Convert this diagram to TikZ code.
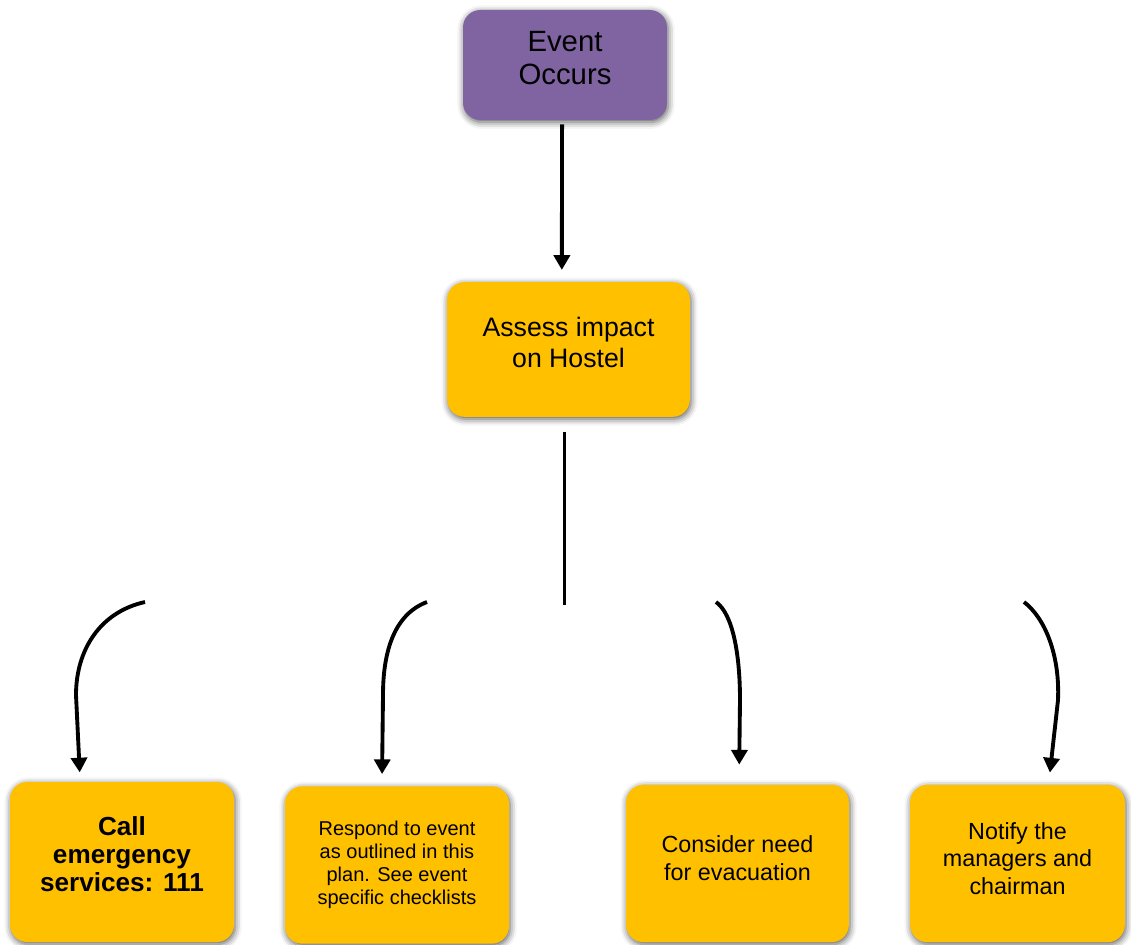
\documentclass[tikz,border=0pt]{standalone}
\usepackage{fontspec}
\setmainfont{Liberation Sans}
\usetikzlibrary{arrows.meta,shadows.blur}
\definecolor{evpurple}{HTML}{8064A2}
\definecolor{boxorange}{HTML}{FFC000}
\tikzset{
  box/.style={rounded corners=13pt, align=center, inner sep=2pt,
    blur shadow={shadow xshift=0.8pt, shadow yshift=-1.6pt, shadow blur radius=5pt, shadow opacity=65}},
  purplebox/.style={box, fill=evpurple, text=black},
  orangebox/.style={box, fill=boxorange, text=black},
  conn/.style={line width=2.9pt, -{Triangle[width=12pt,length=11pt]}},
  plain/.style={line width=2.9pt}
}
\begin{document}
\begin{tikzpicture}[x=0.75pt,y=-0.75pt]
\useasboundingbox (0,0) rectangle (1131,945);
\node[purplebox, font=\fontsize{22}{24.75}\selectfont, text depth=11pt, minimum width=153pt, minimum height=82.5pt] (event) at (565,65) {Event\\Occurs};
\node[orangebox, font=\fontsize{20}{23.2}\selectfont, text depth=10.5pt, minimum width=182pt, minimum height=101pt] (assess) at (568.5,349.5) {Assess impact\\on Hostel};
\node[orangebox, font=\fontsize{19.6}{21.2}\selectfont\bfseries, text depth=12pt, minimum width=168pt, minimum height=120pt] (call) at (122,862) {Call\\emergency\\services: 111};
\node[orangebox, font=\fontsize{15}{17.2}\selectfont, minimum width=168pt, minimum height=118pt] (respond) at (397,865) {Respond to event\\as outlined in this\\plan. See event\\specific checklists};
\node[orangebox, font=\fontsize{17.5}{21}\selectfont, text depth=7.5pt, minimum width=167pt, minimum height=118pt] (consider) at (737.5,863.5) {Consider need\\for evacuation};
\node[orangebox, font=\fontsize{17.5}{20.5}\selectfont, text depth=7.5pt, minimum width=161pt, minimum height=118pt] (notify) at (1017.5,863.5) {Notify the\\managers and\\chairman};

\coordinate (s1) at (145,602);
\coordinate (s2) at (427,602);
\coordinate (s3) at (716,602);
\coordinate (s4) at (1024,602);

\draw[conn] ([xshift=-2.2pt,yshift=-3pt]event.south) -- ([xshift=-5pt,yshift=9pt]assess.north);
\draw[plain] ([xshift=-3pt,yshift=-11pt]assess.south) -- ++(0,-130pt);
\draw[conn] (s1) .. controls (100,612) and (76,650) .. (76,695) -- ([xshift=52.5pt,yshift=7pt]call.north west);
\draw[conn] (s2) .. controls (395,614) and (383,650) .. (383,695) -- ([xshift=73pt,yshift=9pt]respond.north west);
\draw[conn] (s3) .. controls (733,614) and (740,655) .. (740,700) -- ([xshift=85pt,yshift=15pt]consider.north west);
\draw[conn] (s4) .. controls (1045,618) and (1060,655) .. (1058,700) -- ([xshift=105pt,yshift=9pt]notify.north west);
\end{tikzpicture}
\end{document}
